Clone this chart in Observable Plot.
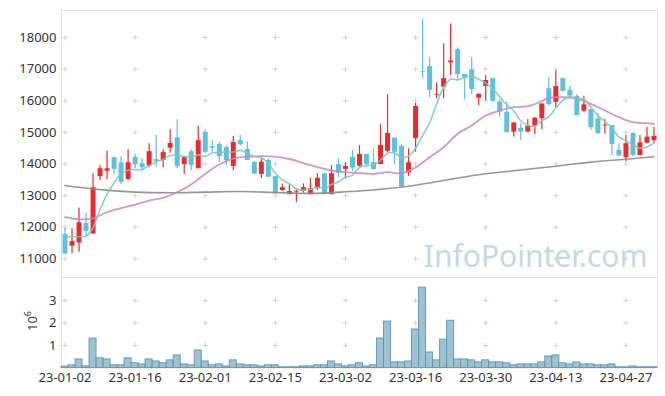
<!DOCTYPE html>
<html><head><meta charset="utf-8">
<script src="https://cdn.jsdelivr.net/npm/d3@7"></script>
<script src="https://cdn.jsdelivr.net/npm/@observablehq/plot@0.6"></script>
<style>
html,body{margin:0;padding:0;background:#fff;}
#chart{position:relative;width:665px;height:396px;overflow:hidden;font-family:"Noto Sans",sans-serif;}
#chart svg{position:absolute;left:0;}
</style></head><body><div id="chart"></div>
<script>
// ---- data ----
const open  = [11770,11400,11500,12120,11790,13600,13770,14200,14040,13510, 14210,14010,13940,14140,14110,14500,14830,13980,14390,13860, 15000,14550,14620,14520,13920,14740,14460,14050,13670,14110, 13600,13160,13030,13110,13130,13030,13220,13690,13030,13980, 13830,14210,13930,14300,14040,13980,14400,14820,14560,13720, 14800,16920,17080,16170,16430,17200,17620,16830,16980,16080, 16450,16700,15960,15640,15010,15130,15010,15200,15430,16380, 15950,16700,16330,16140,15670,15720,15430,15200,15220,14430, 14200,14970,14270,14660,14740];
const high  = [11960,11950,12610,12440,13690,13950,14400,14220,14220,14450, 14320,14160,14640,14900,14450,15080,15400,14220,14450,15190, 15080,14750,14690,14580,14870,14900,14700,14060,14160,14160, 13620,13370,13340,13180,13370,13550,13690,13710,13950,14160, 14040,14430,14580,14310,14480,15240,16190,14830,14610,14480, 15920,18560,17360,16560,17800,18430,17680,16830,17360,16220, 16800,16710,16030,15960,15300,15270,15410,15460,15900,16730, 16940,16710,16450,16200,16140,15720,15590,15410,15220,14640, 14900,14970,14900,15160,15160];
const low   = [11130,11160,11210,11710,11770,13480,13500,13670,13350,13480, 13850,13790,13880,13900,13880,14340,13850,13670,13790,13830, 14320,14370,14050,13950,13790,14585,14110,13670,13530,13570, 13040,13140,13030,12790,13080,13030,13160,13020,13030,13560, 13530,13770,13900,13900,13820,13980,14350,13980,13250,13610, 14370,16690,16090,16060,16060,16800,16700,16030,16200,15850, 16010,15950,15480,14990,14850,14740,15000,14930,15080,15830, 15780,16270,16030,15530,15640,15060,14950,14930,14270,14250, 14060,14220,14270,14640,14640];
const close = [11150,11550,12140,11870,13250,13850,13850,13830,13420,14040, 13980,13880,14390,14080,14360,14650,13920,14200,13950,14740, 14370,14500,14230,14110,14680,14610,14110,13680,14060,13580, 13060,13250,13130,13140,13250,13220,13550,13030,13690,13710, 13920,13870,14300,13980,13820,14590,14970,14370,13270,14040, 15820,16900,16330,16190,16700,17260,16830,16730,16360,16200, 16640,15980,15640,14990,15300,15010,15190,15450,15900,15880, 16450,16300,16150,15530,15870,15150,14960,15230,14620,14250, 14640,14270,14670,14850,14870];
// volume in millions (axis unit 10^6)
const volume = [0.06,0.12,0.38,0.07,1.31,0.43,0.38,0.12,0.12,0.43, 0.21,0.16,0.38,0.29,0.21,0.34,0.56,0.16,0.12,0.78, 0.29,0.12,0.16,0.07,0.34,0.16,0.12,0.12,0.07,0.12, 0.12,0.03,0.03,0.03,0.07,0.07,0.12,0.12,0.29,0.16, 0.07,0.12,0.21,0.07,0.12,1.31,2.06,0.25,0.25,0.29, 1.71,3.57,0.69,0.34,1.26,2.10,0.38,0.38,0.34,0.25, 0.34,0.25,0.25,0.21,0.12,0.16,0.16,0.16,0.25,0.51, 0.56,0.21,0.16,0.25,0.16,0.16,0.12,0.12,0.16,0.03, 0.03,0.07,0.03,0.03,0.03];
const ma5 = [11720,11700,11700,11720,11990,12560,13050,13400,13690,13800, 13820,13830,13940,14070,14140,14270,14280,14240,14220,14290, 14240,14350,14360,14390,14380,14430,14350,14240,14200,14020, 13710,13500,13380,13220,13170,13200,13260,13240,13350,13440, 13570,13650,13890,13950,13970,14120,14340,14350,14210,14250, 14500,14900,15300,15900,16420,16680,16660,16740,16780,16680, 16560,16380,16130,15870,15680,15360,15230,15190,15370,15500, 15770,16010,16130,16070,16050,15800,15530,15340,15150,14850, 14740,14610,14500,14540,14660];
const ma20Idx = [0,2,4,6,8,10,12,14,16,18,20,22,24,26,28,30,32,34,36,38,40,42,44,46,48,50,52,54,56,58,60,62,64,66,68,69,71,73,75,77,79,81,83,84];
const ma20Val = [12316,12250,12280,12474,12601,12718,12845,12930,13107,13351,13689,13984,14173,14230,14246,14230,14158,14031,13898,13794,13740,13708,13689,13740,13708,13889,14215,14531,14955,15218,15534,15692,15797,15828,15987,16094,16113,16062,15904,15692,15480,15322,15290,15271];
const ma120Idx = [0,5,10,15,20,25,30,35,40,45,50,55,60,65,70,75,80,84];
const ma120Val = [13320,13190,13110,13090,13110,13130,13100,13070,13120,13200,13330,13520,13690,13810,13930,14060,14150,14230];
const tickIdx = [0,10,20,30,40,50,60,70,80];
const tickLabels = ["23-01-02","23-01-16","23-02-01","23-02-15","23-03-02","23-03-16","23-03-30","23-04-13","23-04-27"];
const priceTicks = [11000,12000,13000,14000,15000,16000,17000,18000];
const volTicks = [1,2,3];
const watermark = "InfoPointer.com";

// ---- build tables ----
const RED = "#e92b30", BLUE = "#5ec0d9";
const candles = open.map((o, i) => ({i, open: o, high: high[i], low: low[i], close: close[i], col: close[i] >= o ? RED : BLUE}));
const vols = volume.map((v, i) => ({i, v}));
const ma5Data = ma5.map((v, i) => ({i, v}));
const ma20Data = ma20Idx.map((i, k) => ({i, v: ma20Val[k]}));
const ma120Data = ma120Idx.map((i, k) => ({i, v: ma120Val[k]}));
const gridMain = tickIdx.flatMap(i => priceTicks.map(p => ({i, p})));
const gridVol = tickIdx.flatMap(i => volTicks.map(p => ({i, p})));

const xDomain = [-0.5, 84.5];
const baseStyle = {fontFamily: "'Noto Sans', sans-serif", fontSize: "13px", color: "#333", background: "transparent", overflow: "visible"};

const main = Plot.plot({
  width: 665, height: 280,
  marginTop: 10, marginBottom: 3, marginLeft: 61, marginRight: 8,
  style: baseStyle,
  color: {type: "identity"},
  x: {domain: xDomain, axis: null},
  y: {domain: [10410, 18855], ticks: priceTicks, tickSize: 0, tickPadding: 5, label: null, tickFormat: d => String(d)},
  marks: [
    Plot.frame({stroke: "#e2e2e2"}),
    Plot.dot(gridMain, {x: "i", y: "p", symbol: "plus", r: 1.8, stroke: "#d2d2d2", strokeWidth: 1}),
    Plot.text([watermark], {text: d => d, frameAnchor: "bottom-right", dx: -10, dy: -11, fontSize: 30, fill: "#c5d8e3", textAnchor: "end"}),
    Plot.ruleX(candles, {x: "i", y1: "low", y2: "high", stroke: "col", strokeWidth: 1.2}),
    Plot.ruleX(candles, {x: "i", y1: "open", y2: "close", stroke: "col", strokeWidth: 5}),
    Plot.line(ma120Data, {x: "i", y: "v", curve: "catmull-rom", stroke: "#8c8c8c", strokeWidth: 1.6, strokeOpacity: 0.9}),
    Plot.line(ma20Data, {x: "i", y: "v", curve: "catmull-rom", stroke: "#c884c6", strokeWidth: 1.8, strokeOpacity: 0.85}),
    Plot.line(ma5Data, {x: "i", y: "v", curve: "catmull-rom", stroke: "#80c9bb", strokeWidth: 1.6, strokeOpacity: 0.9})
  ]
});
main.style.top = "0px";

const vol = Plot.plot({
  width: 665, height: 126,
  marginTop: 7, marginBottom: 28.5, marginLeft: 61, marginRight: 8,
  style: baseStyle,
  x: {domain: xDomain, ticks: tickIdx, tickFormat: i => tickLabels[tickIdx.indexOf(i)], tickSize: 0, tickPadding: 4.5, label: null},
  y: {domain: [0, 4.02], ticks: volTicks, tickSize: 0, tickPadding: 5, label: null, tickFormat: d => String(d)},
  marks: [
    Plot.frame({stroke: "#e2e2e2"}),
    Plot.dot(gridVol, {x: "i", y: "p", symbol: "plus", r: 1.8, stroke: "#d2d2d2", strokeWidth: 1}),
    Plot.rect(vols, {x1: d => d.i - 0.5, x2: d => d.i + 0.5, y1: 0, y2: "v", fill: "#9cc3d4", stroke: "#5f94ad", strokeWidth: 0.9})
  ]
});
vol.style.top = "270px";

const root = document.getElementById("chart");
root.appendChild(main);
root.appendChild(vol);

// exponent label for the volume axis
const ex = d3.select(vol).append("text")
  .attr("transform", "translate(37,51) rotate(-90)")
  .attr("text-anchor", "middle")
  .attr("font-size", 13).attr("fill", "#333")
  .attr("font-family", "'Noto Sans', sans-serif")
  .text("10");
ex.append("tspan").attr("dy", -6).attr("font-size", 9).text("6");
</script></body></html>
